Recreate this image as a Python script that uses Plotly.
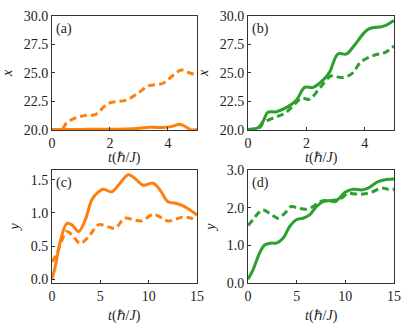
import plotly.graph_objects as go
from plotly.subplots import make_subplots

# panel (a): x vs t, orange
a_t_solid = [0, 0.5, 1.0, 1.5, 2.0, 2.8, 3.38, 3.95, 4.2, 4.4, 4.6, 4.8, 5.0]
a_x_solid = [20.05, 20.05, 20.05, 20.06, 20.07, 20.1, 20.23, 20.23, 20.35, 20.5, 20.3, 20.0, 20.05]
a_t_dash = [0.0, 0.34, 0.51, 0.86, 1.2, 1.49, 1.95, 2.57, 3.03, 3.32, 3.83, 4.18, 4.46, 4.75, 5.0]
a_x_dash = [20.0, 20.05, 20.64, 21.1, 21.3, 21.35, 22.34, 22.63, 23.36, 23.86, 24.1, 24.8, 25.26, 25.0, 24.8]

# panel (b): x vs t, green
b_t_solid = [0, 0.34, 0.51, 0.68, 0.97, 1.37, 1.66, 1.94, 2.23, 2.63, 2.8, 3.08, 3.37, 3.65, 4.11, 4.57, 4.74, 5.0]
b_x_solid = [20.05, 20.2, 20.73, 21.55, 21.6, 22.05, 22.63, 23.74, 23.74, 24.53, 25.1, 26.67, 26.67, 27.46, 28.83, 29.06, 29.2, 29.6]
b_t_dash = [0, 0.4, 0.51, 0.91, 1.26, 1.54, 1.83, 2.11, 2.45, 2.85, 3.2, 3.54, 3.88, 4.34, 4.68, 5.0]
b_x_dash = [20.05, 20.2, 20.6, 21.1, 21.46, 22.1, 22.78, 22.7, 23.65, 24.74, 24.6, 24.9, 26.0, 26.58, 26.78, 27.37]

# panel (c): y vs t, orange
c_t_solid = [0, 0.34, 0.86, 1.54, 2.06, 2.75, 3.43, 4.12, 4.8, 5.32, 6.18, 6.87, 7.9, 8.75, 9.44, 10.47,
             11.16, 12.0, 12.7, 13.4, 14.25, 15.0]
c_y_solid = [0.0, 0.19, 0.57, 0.84, 0.82, 0.72, 0.89, 1.2, 1.32, 1.36, 1.32, 1.42, 1.58, 1.5, 1.42, 1.45,
             1.35, 1.17, 1.15, 1.12, 1.05, 0.97]
c_t_dash = [0, 0.51, 1.03, 1.54, 2.06, 2.92, 3.78, 4.8, 5.84, 6.52, 7.55, 8.4, 9.27, 10.47, 11.16, 12.0,
            12.87, 13.56, 14.4, 15.0]
c_y_dash = [0.26, 0.39, 0.59, 0.72, 0.67, 0.54, 0.64, 0.82, 0.79, 0.77, 0.92, 0.9, 0.88, 0.98, 0.94, 0.88,
            0.91, 0.94, 0.92, 0.9]

# panel (d): y vs t, green
d_t_solid = [0, 0.51, 1.2, 1.71, 2.4, 2.9, 3.6, 4.28, 4.97, 5.65, 6.34, 7.02, 7.7, 8.56, 9.25, 9.93, 10.8,
             11.64, 12.33, 13.36, 14.2, 15.0]
d_y_solid = [0.1, 0.35, 0.8, 1.01, 1.06, 1.06, 1.19, 1.5, 1.68, 1.72, 1.81, 2.03, 2.16, 2.19, 2.22, 2.4, 2.49,
             2.47, 2.52, 2.69, 2.75, 2.76]
d_t_dash = [0, 0.51, 1.03, 1.54, 2.23, 3.08, 3.77, 4.45, 5.14, 5.99, 6.68, 7.36, 8.22, 8.9, 9.59, 10.27,
            11.13, 11.8, 12.67, 13.7, 14.4, 15.0]
d_y_dash = [1.53, 1.68, 1.85, 1.94, 1.85, 1.72, 1.85, 2.03, 1.99, 1.96, 2.03, 2.16, 2.19, 2.16, 2.25, 2.38,
            2.36, 2.36, 2.41, 2.52, 2.49, 2.49]

orange = '#ff7f0e'
green = '#2ca02c'
font = 'Liberation Serif'

fig = make_subplots(rows=2, cols=2)

panels = [
    (1, 1, a_t_solid, a_x_solid, a_t_dash, a_x_dash, orange),
    (1, 2, b_t_solid, b_x_solid, b_t_dash, b_x_dash, green),
    (2, 1, c_t_solid, c_y_solid, c_t_dash, c_y_dash, orange),
    (2, 2, d_t_solid, d_y_solid, d_t_dash, d_y_dash, green),
]
for r, c, ts, ys, td, yd, col in panels:
    fig.add_trace(go.Scatter(x=ts, y=ys, mode='lines', line=dict(color=col, width=3, shape='spline'),
                             showlegend=False), row=r, col=c)
    fig.add_trace(go.Scatter(x=td, y=yd, mode='lines',
                             line=dict(color=col, width=3, dash='7px,4px', shape='spline'),
                             showlegend=False), row=r, col=c)

xdom = [[0.1253, 0.4747], [0.5976, 0.9494]]
ydom = [[0.6061, 0.9515], [0.1424, 0.4848]]
xtitle_y = [0.522, 0.042]  # paper y of the t(hbar/J) labels

axis_style = dict(showline=True, mirror=True, linecolor='#333', linewidth=1, ticks='inside', ticklen=3,
                  tickcolor='#333', showgrid=False, zeroline=False, automargin=False,
                  tickfont=dict(family=font, size=14, color='#222'))
ttl = dict(font=dict(family=font, size=14, color='#222'))

for r in (1, 2):
    for c in (1, 2):
        fig.update_xaxes(domain=xdom[c - 1], row=r, col=c, **axis_style)
        fig.update_yaxes(domain=ydom[r - 1], row=r, col=c, title=dict(standoff=7, **ttl), **axis_style)
        fig.add_annotation(text='<i>t</i>(ℏ/<i>J</i>)', xref='paper', yref='paper',
                           x=sum(xdom[c - 1]) / 2, y=xtitle_y[r - 1], showarrow=False,
                           xanchor='center', yanchor='middle', **ttl)

fig.update_xaxes(range=[0, 5], tickvals=[0, 2, 4], row=1)
fig.update_xaxes(range=[0, 15], tickvals=[0, 5, 10, 15], row=2)
fig.update_yaxes(range=[20, 30], tickvals=[20, 22.5, 25, 27.5, 30], tickformat='.1f', title_text='<i>x</i>', row=1)
fig.update_yaxes(range=[-0.06, 1.65], tickvals=[0, 0.5, 1.0, 1.5], tickformat='.1f', title_text='<i>y</i>',
                 row=2, col=1)
fig.update_yaxes(range=[0, 3], tickvals=[0, 1, 2, 3], tickformat='.1f', title_text='<i>y</i>', row=2, col=2)

labels = ['(a)', '(b)', '(c)', '(d)']
for i, lab in enumerate(labels):
    r, c = divmod(i, 2)
    fig.add_annotation(text=lab, xref='paper', yref='paper', x=xdom[c][0] + 0.006, y=ydom[r][1] - 0.01,
                       xanchor='left', yanchor='top', showarrow=False,
                       font=dict(family=font, size=14, color='#222'))

fig.update_layout(width=415, height=330, margin=dict(l=0, r=0, t=0, b=0),
                  plot_bgcolor='white', paper_bgcolor='white')

# drop the default page margin so the figure sits at the window's corner
fig.write_html("out.html", config={'displayModeBar': False},
               post_script="document.body.style.margin='0';")
